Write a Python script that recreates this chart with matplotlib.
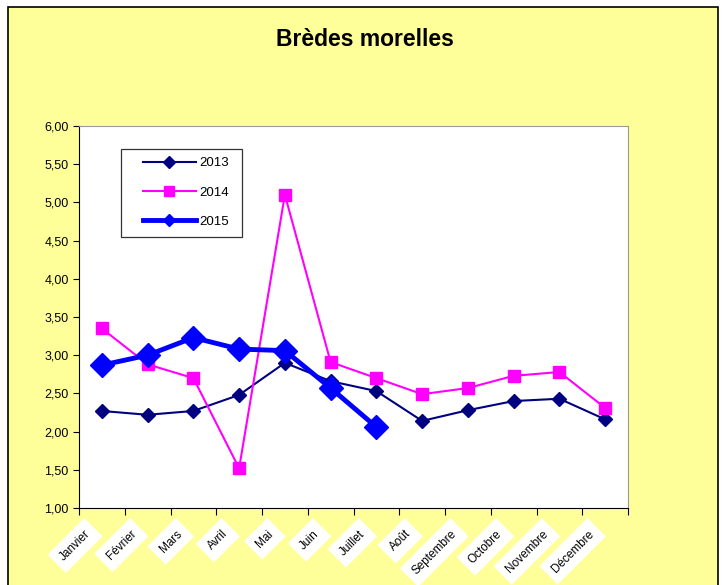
import matplotlib
matplotlib.use('Agg')
import matplotlib.pyplot as plt
import matplotlib.ticker as ticker
from matplotlib.patches import Rectangle

plt.rcParams['font.family'] = ['Liberation Sans', 'DejaVu Sans']

months = ["Janvier", "Février", "Mars", "Avril", "Mai", "Juin", "Juillet",
          "Août", "Septembre", "Octobre", "Novembre", "Décembre"]
vals_2013 = [2.27, 2.22, 2.27, 2.48, 2.90, 2.66, 2.53, 2.14, 2.28, 2.40, 2.43, 2.16]
vals_2014 = [3.35, 2.88, 2.70, 1.52, 5.10, 2.91, 2.70, 2.49, 2.57, 2.73, 2.78, 2.31]
vals_2015 = [2.87, 3.00, 3.23, 3.08, 3.06, 2.57, 2.06]

fig = plt.figure(figsize=(7.23, 5.85), dpi=100)
fig.patch.set_facecolor('white')
# yellow chart area with black frame
fig.patches.append(Rectangle((8 / 723, -0.01), 710 / 723, 1 - 7 / 585 + 0.01,
                             transform=fig.transFigure, facecolor='#FFFF99',
                             edgecolor='black', linewidth=1.2, zorder=-10))

ax = fig.add_axes([79 / 723, 77 / 585, 549 / 723, 382 / 585])
ax.set_facecolor('white')

x = list(range(len(months)))
ax.plot(x, vals_2013, color='#000080', linewidth=1.5, marker='D', markersize=7, label='2013')
ax.plot(x, vals_2014, color='#FF00FF', linewidth=1.5, marker='s', markersize=9, label='2014')
ax.plot(x[:len(vals_2015)], vals_2015, color='#0000FF', linewidth=3.5, marker='D',
        markersize=12, label='2015')

ax.set_xlim(-0.5, len(months) - 0.5)
ax.set_ylim(1, 6)
ax.yaxis.set_major_locator(ticker.MultipleLocator(0.5))
ax.yaxis.set_major_formatter(ticker.FuncFormatter(lambda v, p: f"{v:.2f}".replace('.', ',')))
ax.tick_params(axis='y', labelsize=9, length=4, direction='out')

ax.set_xticks([i - 0.5 for i in range(len(months) + 1)])
ax.set_xticklabels([])
ax.tick_params(axis='x', length=5, direction='out')

for sp in ['top', 'right']:
    ax.spines[sp].set_color('#999999')
for sp in ['left', 'bottom']:
    ax.spines[sp].set_color('black')

for i, m in enumerate(months):
    ax.text(i - 0.2, 0.74, m, rotation=45, ha='right', va='top', fontsize=8.5,
            transform=ax.transData, clip_on=False,
            bbox=dict(facecolor='white', edgecolor='none', pad=5))

# legend frame drawn separately (wider padding than matplotlib's)
ax.add_patch(Rectangle((42 / 549, 1 - 111 / 382), 121 / 549, 88 / 382,
                       transform=ax.transAxes, facecolor='white',
                       edgecolor='#333333', linewidth=0.9, zorder=4))
leg = ax.legend(loc='upper left', bbox_to_anchor=(64 / 549, 1 - 31 / 382),
                borderaxespad=0, borderpad=0, fontsize=9.5, frameon=False,
                handlelength=4.0, handletextpad=0.25, labelspacing=1.3)
leg.set_zorder(5)
for h, ms in zip(leg.legend_handles, [6, 7, 6]):
    h.set_markersize(ms)

fig.text(365 / 723, 1 - 40 / 585, "Brèdes morelles", ha='center', va='center',
         fontsize=16.5, fontweight='bold')

fig.savefig('out.png', dpi=100)
